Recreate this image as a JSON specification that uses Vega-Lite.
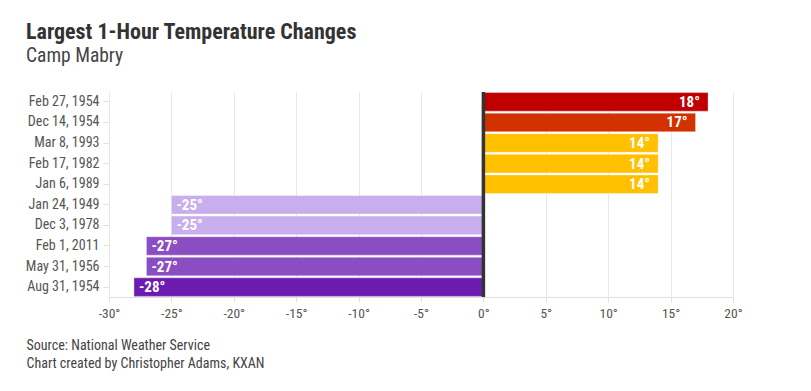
{
  "$schema": "https://vega.github.io/schema/vega-lite/v6.json",
  "width": 624,
  "height": 205,
  "autosize": {"type": "none"},
  "padding": {"left": 109, "top": 92, "right": 78, "bottom": 94},
  "background": "white",
  "title": {
    "text": "Largest 1-Hour Temperature Changes",
    "subtitle": "Camp Mabry",
    "anchor": "start",
    "frame": "group",
    "dx": -83,
    "offset": 24,
    "font": "Roboto Condensed, Liberation Sans Narrow, Roboto",
    "fontSize": 22,
    "fontWeight": "bold",
    "color": "#333333",
    "subtitleFont": "Roboto Condensed, Liberation Sans Narrow, Roboto",
    "subtitleFontSize": 19.5,
    "subtitleColor": "#444444",
    "subtitlePadding": 3
  },
  "data": {
    "values": [
      {"date": "Feb 27, 1954", "change": 18, "label": "18°"},
      {"date": "Dec 14, 1954", "change": 17, "label": "17°"},
      {"date": "Mar 8, 1993", "change": 14, "label": "14°"},
      {"date": "Feb 17, 1982", "change": 14, "label": "14°"},
      {"date": "Jan 6, 1989", "change": 14, "label": "14°"},
      {"date": "Jan 24, 1949", "change": -25, "label": "-25°"},
      {"date": "Dec 3, 1978", "change": -25, "label": "-25°"},
      {"date": "Feb 1, 2011", "change": -27, "label": "-27°"},
      {"date": "May 31, 1956", "change": -27, "label": "-27°"},
      {"date": "Aug 31, 1954", "change": -28, "label": "-28°"}
    ]
  },
  "encoding": {
    "y": {
      "field": "date",
      "type": "nominal",
      "sort": null,
      "scale": {"paddingInner": 0.1, "paddingOuter": 0.03},
      "axis": {
        "title": null,
        "domain": false,
        "grid": false,
        "tickSize": 6,
        "tickColor": "#e0e0e0",
        "labelPadding": 4,
        "labelFont": "Roboto Condensed, Liberation Sans Narrow, Roboto",
        "labelFontSize": 14,
        "labelColor": "#555555"
      }
    },
    "x": {
      "field": "change",
      "type": "quantitative",
      "scale": {"domain": [-30, 20], "nice": false},
      "axis": {
        "values": [-30, -25, -20, -15, -10, -5, 0, 5, 10, 15, 20],
        "labelExpr": "datum.value + '°'",
        "labelFlush": false,
        "grid": true,
        "gridColor": "#e8e8e8",
        "domainColor": "#e0e0e0",
        "tickColor": "#e0e0e0",
        "tickSize": 5,
        "labelPadding": 4,
        "labelFont": "Roboto Condensed, Liberation Sans Narrow, Roboto",
        "labelFontSize": 13.5,
        "labelColor": "#555555",
        "title": ["Source: National Weather Service", "Chart created by Christopher Adams, KXAN"],
        "titleAnchor": "start",
        "titleAlign": "left",
        "titleBaseline": "top",
        "titleX": -83,
        "titleY": 41,
        "titleFont": "Roboto Condensed, Liberation Sans Narrow, Roboto",
        "titleFontSize": 14,
        "titleFontWeight": "normal",
        "titleColor": "#444444",
        "titleLineHeight": 18
      }
    }
  },
  "layer": [
    {
      "mark": {"type": "bar", "stroke": "white", "strokeOpacity": 0.35, "strokeWidth": 1},
      "encoding": {
        "color": {
          "field": "change",
          "type": "ordinal",
          "scale": {
            "domain": [18, 17, 14, -25, -27, -28],
            "range": ["#c00000", "#d23100", "#ffc000", "#c8aeec", "#8b4ec2", "#6c1bb0"]
          },
          "legend": null
        }
      }
    },
    {
      "transform": [{"filter": "datum.change > 0"}],
      "mark": {"type": "text", "align": "right", "dx": -8, "color": "white", "fontWeight": "bold", "fontSize": 15, "font": "Roboto Condensed, Liberation Sans Narrow, Roboto"},
      "encoding": {"text": {"field": "label"}}
    },
    {
      "transform": [{"filter": "datum.change < 0"}],
      "mark": {"type": "text", "align": "left", "dx": 5, "color": "white", "fontWeight": "bold", "fontSize": 15, "font": "Roboto Condensed, Liberation Sans Narrow, Roboto"},
      "encoding": {"text": {"field": "label"}}
    },
    {
      "data": {"values": [{"zero": 0}]},
      "mark": {"type": "rule", "color": "#333333", "strokeWidth": 3.5},
      "encoding": {"x": {"field": "zero", "type": "quantitative"}, "y": null}
    }
  ],
  "config": {"view": {"stroke": null}}
}
